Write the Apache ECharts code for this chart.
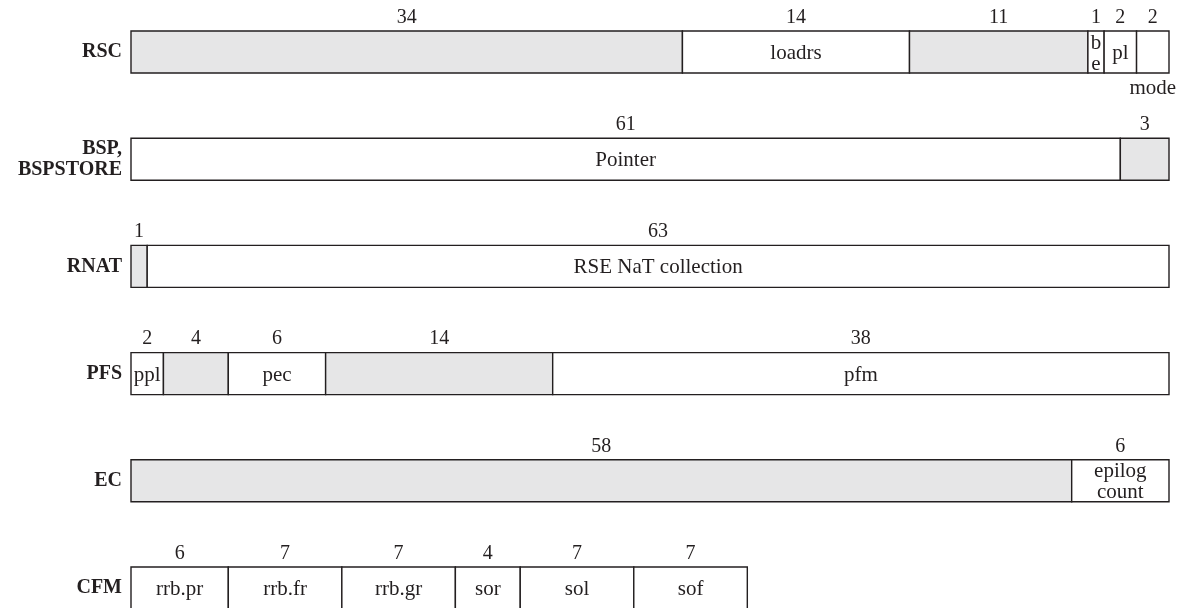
<!DOCTYPE html>
<html><head><meta charset="utf-8">
<script src="https://cdn.jsdelivr.net/npm/echarts@6/dist/echarts.min.js"></script>
<style>html,body{margin:0;padding:0;background:#fff}#c{width:1183px;height:608px}</style>
</head><body><div id="c"></div>
<script>
// Register names (rows, top to bottom)
const registers = ['RSC', 'BSP,\nBSPSTORE', 'RNAT', 'PFS', 'EC', 'CFM'];
// Field widths in bits (left to right) and field names ('' = reserved, shaded)
const rscWidths  = [34, 14, 11, 1, 2, 2];
const rscFields  = ['', 'loadrs', '', 'b\ne', 'pl', 'mode'];
const bspWidths  = [61, 3];
const bspFields  = ['Pointer', ''];
const rnatWidths = [1, 63];
const rnatFields = ['', 'RSE NaT collection'];
const pfsWidths  = [2, 4, 6, 14, 38];
const pfsFields  = ['ppl', '', 'pec', '', 'pfm'];
const ecWidths   = [58, 6];
const ecFields   = ['', 'epilog\ncount'];
const cfmWidths  = [6, 7, 7, 4, 7, 7];
const cfmFields  = ['rrb.pr', 'rrb.fr', 'rrb.gr', 'sor', 'sol', 'sof'];
const registerBits = 64;
// field names drawn under their box instead of inside it
const labelsBelow = ['mode'];

const rowWidths = [rscWidths, bspWidths, rnatWidths, pfsWidths, ecWidths, cfmWidths];
const rowFields = [rscFields, bspFields, rnatFields, pfsFields, ecFields, cfmFields];

const data = [];
rowWidths.forEach((ws, r) => {
  let start = 0;
  ws.forEach((w, i) => {
    data.push([start, r, w, rowFields[r][i]]);
    start += w;
  });
});

const FONT = '"Liberation Serif", "Times New Roman", "DejaVu Serif", serif';
const INK = '#231f20';
const SHADE = '#e6e6e7';

const chart = echarts.init(document.getElementById('c'), null, {renderer: 'canvas'});
chart.setOption({
  animation: false,
  backgroundColor: '#fff',
  grid: {left: 131, right: 14, top: 52, bottom: 20, containLabel: false},
  xAxis: {type: 'value', min: 0, max: registerBits, show: false},
  yAxis: {
    type: 'category', inverse: true, data: registers, boundaryGap: false,
    axisLine: {show: false}, axisTick: {show: false}, splitLine: {show: false},
    axisLabel: {
      margin: 9, color: INK, fontFamily: FONT, fontWeight: 'bold', fontSize: 20,
      lineHeight: 21, align: 'right'
    }
  },
  series: [{
    type: 'custom',
    clip: false,
    data: data,
    encode: {x: [0], y: 1},
    renderItem: function (params, api) {
      const start = api.value(0), row = api.value(1), w = api.value(2);
      const name = data[params.dataIndex][3];
      const p0 = api.coord([start, row]);
      const p1 = api.coord([start + w, row]);
      const band = api.size([0, 1])[1];
      const h = band * 0.392;
      const top = p0[1] - h / 2;
      const cx = (p0[0] + p1[0]) / 2;
      const children = [{
        type: 'rect',
        shape: {x: p0[0], y: top, width: p1[0] - p0[0], height: h},
        style: {fill: name === '' ? SHADE : '#fff', stroke: INK, lineWidth: 1.4}
      }, {
        type: 'text',
        style: {
          text: String(w), x: cx, y: top - 13.5, align: 'center', verticalAlign: 'middle',
          font: '20px ' + FONT, fill: INK
        }
      }];
      if (name !== '') {
        const below = labelsBelow.indexOf(name) >= 0;
        children.push({
          type: 'text',
          style: {
            text: name, x: cx, y: below ? top + h + 15 : p0[1] + 1.5,
            align: 'center', verticalAlign: 'middle',
            font: '21px ' + FONT, fill: INK, lineHeight: 21
          }
        });
      }
      return {type: 'group', children: children};
    }
  }]
});
</script></body></html>
